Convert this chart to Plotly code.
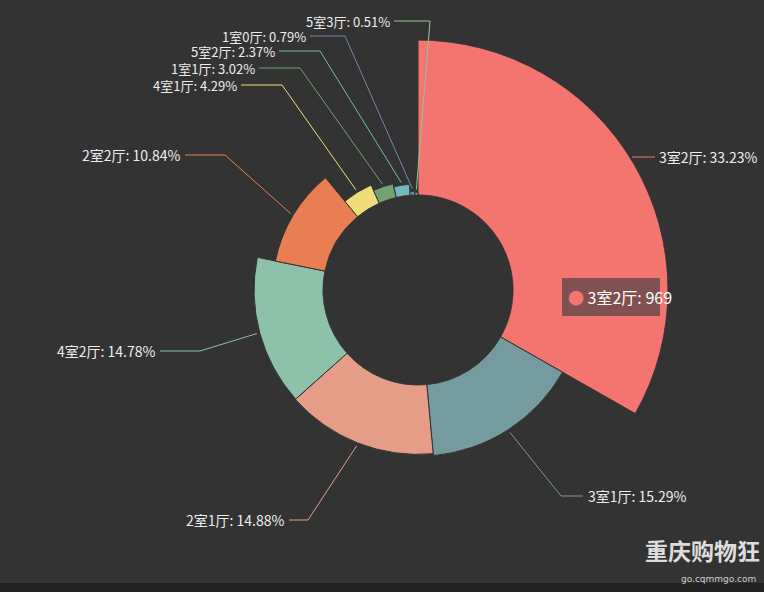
import math
import plotly.graph_objects as go

W, H = 764, 592
names = ["3室2厅", "3室1厅", "2室1厅", "4室2厅", "2室2厅", "4室1厅", "1室1厅", "5室2厅", "1室0厅", "5室3厅"]
counts = [969, 446, 434, 431, 316, 125, 88, 69, 23, 15]
colors = ["#f47570", "#759aa0", "#e69d87", "#8dc1a9", "#ea7e53", "#eedd78", "#73a373", "#73b9bc", "#7289ab", "#91ca8c"]
pct_labels = ["33.23%", "15.29%", "14.88%", "14.78%", "10.84%", "4.29%", "3.02%", "2.37%", "0.79%", "0.51%"]

total = sum(counts)
widths = [c / total * 360 for c in counts]
thetas = []
acc = 0
for w in widths:
    thetas.append(acc + w / 2)
    acc += w

cx, cy, R, r0 = 418, 290, 250, 95
vmin, vmax = 0, max(counts)

fig = go.Figure(go.Barpolar(
    r=counts, theta=thetas, width=widths, base=0,
    marker=dict(color=colors, line=dict(color="#333333", width=1)),
    hoverinfo="skip"))

fig.update_layout(
    width=W, height=H, margin=dict(l=0, r=0, t=0, b=0),
    paper_bgcolor="#333333", showlegend=False,
    polar=dict(
        domain=dict(x=[(cx - R) / W, (cx + R) / W], y=[(H - cy - R) / H, (H - cy + R) / H]),
        bgcolor="rgba(0,0,0,0)", hole=r0 / R,
        radialaxis=dict(range=[vmin, vmax], visible=False),
        angularaxis=dict(direction="clockwise", rotation=90, visible=False, showgrid=False)))

def px(x, y):
    return x / W, 1 - y / H

def edge(i, extra=3):
    rr = r0 + (counts[i] - vmin) / (vmax - vmin) * (R - r0) + extra
    a = math.radians(thetas[i])
    return cx + rr * math.sin(a), cy - rr * math.cos(a)

# (elbow x, label y, text-end x, side)
label_pos = [(655, 157, 658, "left"), (583, 496, 587, "left"), (308, 520, 286, "right"),
             (180, 351, 157, "right"), (205, 155, 182, "right"), (262, 85, 238, "right"),
             (280, 68, 256, "right"), (300, 51, 276, "right"), (325, 36, 307, "right"),
             (410, 21, 391, "right")]

font = "Noto Sans CJK SC"
for i, (ex, ly, tx, side) in enumerate(label_pos):
    ax_, ay_ = edge(i)
    if i == 0:
        ax_, ay_ = 632, 157
        pts = [(ax_, ay_), (ex, ly)]
    elif side == "left":
        pts = [(ax_, ay_), (ex - 22, ly), (ex, ly)]
    else:
        pts = [(ax_, ay_), (ex + (0 if i == 2 else 20), ly), (tx + 3, ly)]
    for (x0, y0), (x1, y1) in zip(pts[:-1], pts[1:]):
        a0, b0 = px(x0, y0)
        a1, b1 = px(x1, y1)
        fig.add_shape(type="line", xref="paper", yref="paper", x0=a0, y0=b0, x1=a1, y1=b1,
                      line=dict(color=colors[i], width=1))
    fx, fy = px(tx, ly)
    fig.add_annotation(xref="paper", yref="paper", x=fx, y=fy, showarrow=False,
                       xanchor=side, yanchor="middle", text=f"{names[i]}: {pct_labels[i]}",
                       font=dict(family=font, size=14 if i < 5 else 13, color="#eeeeee"),
                       borderpad=0)

# tooltip
tx0, ty0 = px(562, 278)
tx1, ty1 = px(660, 316)
fig.add_shape(type="rect", xref="paper", yref="paper", x0=tx0, y0=ty0, x1=tx1, y1=ty1,
              fillcolor="rgba(90,70,70,0.75)", line=dict(width=0), layer="above")
fx, fy = px(566, 297)
fig.add_annotation(xref="paper", yref="paper", x=fx, y=fy, showarrow=False, xanchor="left",
                   text=f"<span style='color:{colors[0]}'>●</span> {names[0]}: {counts[0]}",
                   font=dict(family=font, size=16, color="#ffffff"))

# bottom strip and watermark
fig.add_shape(type="rect", xref="paper", yref="paper", x0=0, y0=0, x1=1, y1=1 - 583 / H,
              fillcolor="#222222", line=dict(width=0), layer="above")
fx, fy = px(762, 569)
fig.add_annotation(xref="paper", yref="paper", x=fx, y=fy, showarrow=False, xanchor="right",
                   text="<b>重庆购物狂</b>", font=dict(family=font, size=23, color="#dddddd"))
fx, fy = px(758, 586)
fig.add_annotation(xref="paper", yref="paper", x=fx, y=fy, showarrow=False, xanchor="right",
                   text="go.cqmmgo.com", font=dict(family="DejaVu Sans", size=9, color="#cccccc"))

fig.write_html("out.html", config={"displayModeBar": False},
               post_script="document.body.style.margin='0';")
